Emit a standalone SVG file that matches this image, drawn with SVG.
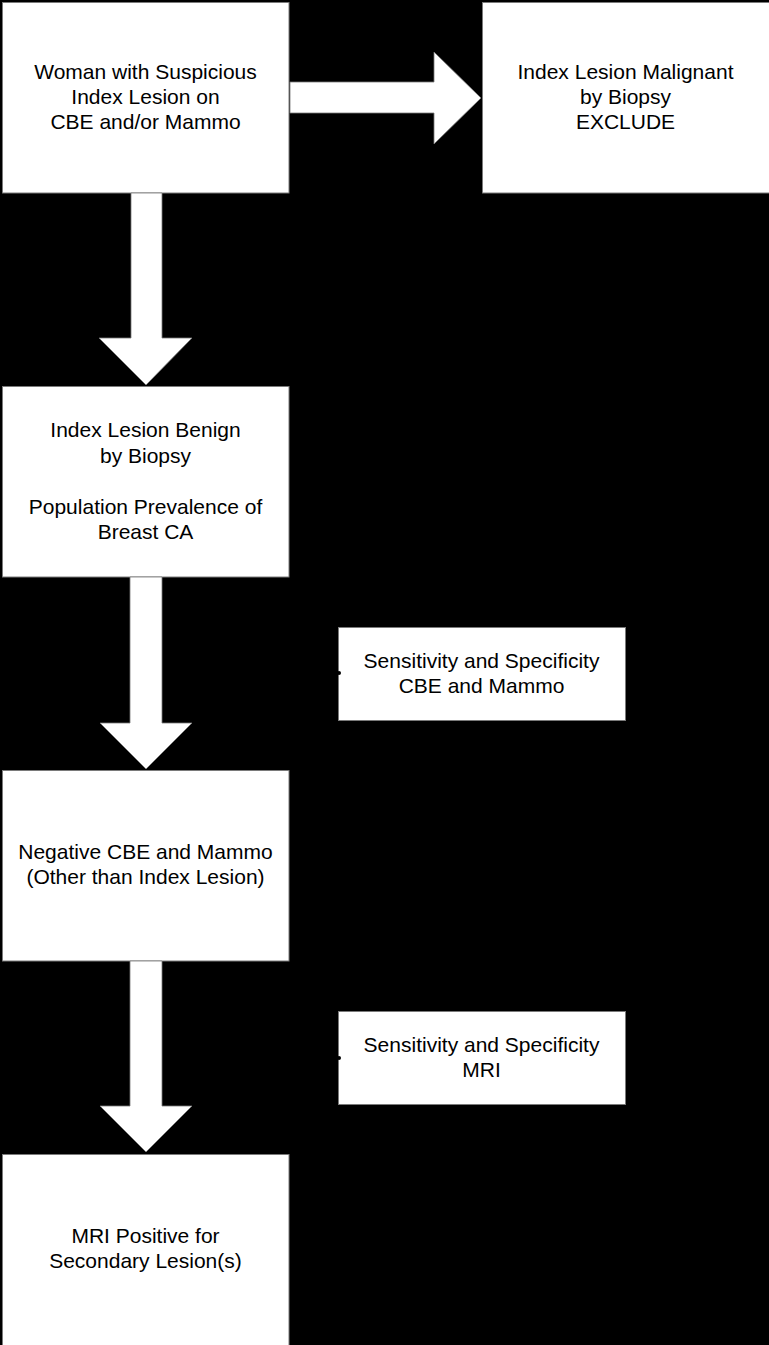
<svg xmlns="http://www.w3.org/2000/svg" width="769" height="1345" viewBox="0 0 769 1345">
<style>
.box{fill:#fff;stroke:#7a7a7a;stroke-width:1}
.arrow{fill:#fff;stroke:#7a7a7a;stroke-width:0.8}
text{font-family:"Liberation Sans",Arial,sans-serif;font-size:21px;fill:#000;text-anchor:middle}
</style>
<rect x="0" y="0" width="769" height="1345" fill="#000"/>
<g id="node-woman">
<rect class="box" x="2.5" y="2.5" width="286.5" height="190.5"/>
<text x="145.5" y="79">Woman with Suspicious</text>
<text x="145.5" y="104">Index Lesion on</text>
<text x="145.5" y="129">CBE and/or Mammo</text>
</g>
<g id="node-malignant">
<rect class="box" x="482.5" y="2.5" width="290" height="190.5"/>
<text x="625.5" y="79">Index Lesion Malignant</text>
<text x="625.5" y="104">by Biopsy</text>
<text x="625.5" y="129">EXCLUDE</text>
</g>
<g id="node-benign">
<rect class="box" x="2.5" y="386.5" width="286.5" height="190.5"/>
<text x="145.5" y="437">Index Lesion Benign</text>
<text x="145.5" y="462.5">by Biopsy</text>
<text x="145.5" y="513.5">Population Prevalence of</text>
<text x="145.5" y="539">Breast CA</text>
</g>
<g id="node-sens-cbe">
<rect class="box" x="338.5" y="627.5" width="287" height="93"/>
<text x="481.5" y="668">Sensitivity and Specificity</text>
<text x="481.5" y="693">CBE and Mammo</text>
</g>
<g id="node-negative">
<rect class="box" x="2.5" y="770.5" width="286.5" height="190.5"/>
<text x="145.5" y="859">Negative CBE and Mammo</text>
<text x="145.5" y="884">(Other than Index Lesion)</text>
</g>
<g id="node-sens-mri">
<rect class="box" x="338.5" y="1011.5" width="287" height="93"/>
<text x="481.5" y="1052">Sensitivity and Specificity</text>
<text x="481.5" y="1077">MRI</text>
</g>
<g id="node-mri-positive">
<rect class="box" x="2.5" y="1154.5" width="286.5" height="195"/>
<text x="145.5" y="1243">MRI Positive for</text>
<text x="145.5" y="1268">Secondary Lesion(s)</text>
</g>
<g id="connectors">
<polygon class="arrow" points="290,82 434,82 434,52 481,98 434,144 434,113 290,113"/>
<polygon class="arrow" points="131,193 162,193 162,338 192,338 146,385 99,338 131,338"/>
<polygon class="arrow" points="130,577 162,577 162,723 192,723 146,769 100,723 130,723"/>
<polygon class="arrow" points="130,961 162,961 162,1106 192,1106 146,1152 100,1106 130,1106"/>
<circle cx="339" cy="673" r="2" fill="#000"/>
<circle cx="339" cy="1058" r="2" fill="#000"/>
</g>
</svg>
